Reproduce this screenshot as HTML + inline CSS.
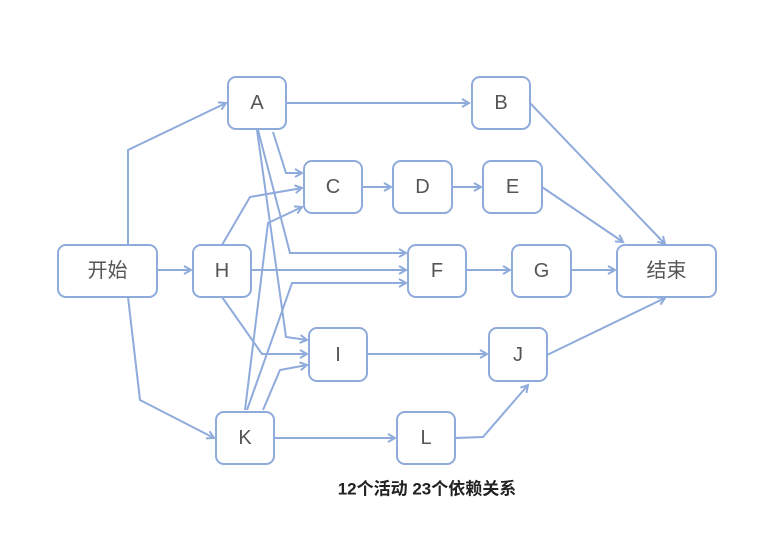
<!DOCTYPE html>
<html><head><meta charset="utf-8"><style>
html,body{margin:0;padding:0;background:#fff;}
svg{display:block;}
.n{fill:#fff;stroke:#8fabdb;stroke-width:2;}
.t{font-family:"Liberation Sans","Noto Sans CJK SC",sans-serif;font-size:20px;fill:#555;text-anchor:middle;dominant-baseline:central;}
.e{fill:none;stroke:#8fabdb;stroke-width:2;marker-end:url(#ar);}
</style></head><body>
<svg width="778" height="545" viewBox="0 0 778 545">
<defs><marker id="ar" markerWidth="10" markerHeight="10" refX="8" refY="5" orient="auto" markerUnits="userSpaceOnUse"><path d="M1,1 L8,5 L1,9" fill="none" stroke="#8fabdb" stroke-width="2"/></marker></defs>
<g>
<path class="e" d="M128,245 L128,150 L226,103"/>
<path class="e" d="M157,270 L191,270"/>
<path class="e" d="M128,297 L140,400 L214,438"/>
<path class="e" d="M286,103 L469,103"/>
<path class="e" d="M273,132 L286,173 L302,173"/>
<path class="e" d="M258,130 L290,253 L406,253"/>
<path class="e" d="M257,130 L286,337 L307,340"/>
<path class="e" d="M245,410 L268,223 L302,207"/>
<path class="e" d="M247,410 L292,283 L406,283"/>
<path class="e" d="M263,410 L280,370 L307,365"/>
<path class="e" d="M222,245 L250,197 L302,188"/>
<path class="e" d="M251,270 L406,270"/>
<path class="e" d="M222,297 L262,354 L307,354"/>
<path class="e" d="M362,187 L391,187"/>
<path class="e" d="M452,187 L481,187"/>
<path class="e" d="M466,270 L510,270"/>
<path class="e" d="M571,270 L615,270"/>
<path class="e" d="M530,103 L665,244"/>
<path class="e" d="M542,187 L623,242"/>
<path class="e" d="M367,354 L487,354"/>
<path class="e" d="M547,355 L665,298"/>
<path class="e" d="M274,438 L395,438"/>
<path class="e" d="M455,438 L483,437 L528,385"/>
</g>
<g>
<rect class="n" x="58" y="245" width="99" height="52" rx="8"/><text class="t" x="107.5" y="271">开始</text>
<rect class="n" x="617" y="245" width="99" height="52" rx="8"/><text class="t" x="666.5" y="271">结束</text>
<rect class="n" x="228" y="77" width="58" height="52" rx="8"/><text class="t" x="257" y="103">A</text>
<rect class="n" x="472" y="77" width="58" height="52" rx="8"/><text class="t" x="501" y="103">B</text>
<rect class="n" x="304" y="161" width="58" height="52" rx="8"/><text class="t" x="333" y="187">C</text>
<rect class="n" x="393" y="161" width="59" height="52" rx="8"/><text class="t" x="422.5" y="187">D</text>
<rect class="n" x="483" y="161" width="59" height="52" rx="8"/><text class="t" x="512.5" y="187">E</text>
<rect class="n" x="193" y="245" width="58" height="52" rx="8"/><text class="t" x="222" y="271">H</text>
<rect class="n" x="408" y="245" width="58" height="52" rx="8"/><text class="t" x="437" y="271">F</text>
<rect class="n" x="512" y="245" width="59" height="52" rx="8"/><text class="t" x="541.5" y="271">G</text>
<rect class="n" x="309" y="328" width="58" height="53" rx="8"/><text class="t" x="338" y="355">I</text>
<rect class="n" x="489" y="328" width="58" height="53" rx="8"/><text class="t" x="518" y="355">J</text>
<rect class="n" x="216" y="412" width="58" height="52" rx="8"/><text class="t" x="245" y="438">K</text>
<rect class="n" x="397" y="412" width="58" height="52" rx="8"/><text class="t" x="426" y="438">L</text>
</g>
<text x="427" y="489" style="font-family:'Liberation Sans','Noto Sans CJK SC',sans-serif;font-size:17px;font-weight:600;fill:#222;text-anchor:middle;dominant-baseline:central;">12个活动 23个依赖关系</text>
</svg>
</body></html>
